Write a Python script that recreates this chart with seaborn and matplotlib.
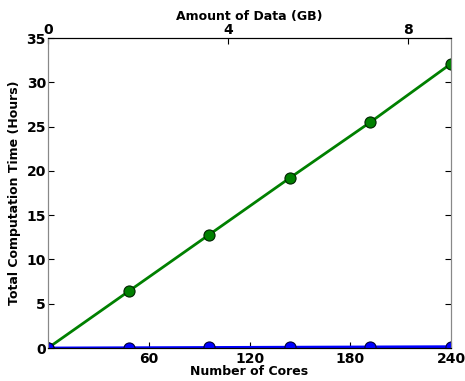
import matplotlib
matplotlib.use("Agg")
import matplotlib.pyplot as plt
import seaborn as sns
import numpy as np

cores = [0, 48, 96, 144, 192, 240]
time_green = [0.0, 6.4, 12.8, 19.2, 25.5, 32.1]
time_blue = [0.0, 0.03, 0.06, 0.09, 0.12, 0.15]
bottom_ticks = [60, 120, 180, 240]
top_ticks = [0, 4, 8]
top_max = 8.96

plt.rcParams['font.family'] = ['DejaVu Sans']
plt.rcParams['font.weight'] = 'bold'
plt.rcParams['axes.labelweight'] = 'bold'

fig = plt.figure(figsize=(4.65, 3.81), dpi=100)
ax = fig.add_axes([48/465, 1-348/381, (451-48)/465, (348-38)/381])

green = (0, 0.5, 0)
blue = (0, 0, 1)
sns.lineplot(x=cores, y=time_green, ax=ax, color=green, linewidth=2)
sns.lineplot(x=cores, y=time_blue, ax=ax, color=blue, linewidth=2)
sns.scatterplot(x=cores, y=time_green, ax=ax, color=green, s=64,
                edgecolor='#002200', linewidth=0.8, zorder=3)
sns.scatterplot(x=cores, y=time_blue, ax=ax, color=blue, s=64,
                edgecolor='#000033', linewidth=0.8, zorder=3)

ax.set_xlim(0, 240)
ax.set_ylim(0, 35)
ax.set_xticks(bottom_ticks)
ax.set_yticks(np.arange(0, 36, 5))
ax.tick_params(direction='in', labelsize=10, length=4, top=False, right=True, pad=3)
ax.tick_params(axis='y', pad=1.5)
for lab in ax.get_xticklabels() + ax.get_yticklabels():
    lab.set_fontweight('bold')
ax.set_xlabel('Number of Cores', fontsize=9, fontweight='bold', labelpad=-1)
ax.set_ylabel('Total Computation Time (Hours)', fontsize=9, fontweight='bold', labelpad=4)
ax.spines['left'].set_color('#888888')
ax.spines['right'].set_color('#888888')

ax2 = ax.twiny()
ax2.set_xlim(0, top_max)
ax2.set_xticks(top_ticks)
ax2.tick_params(direction='in', labelsize=10, length=4, pad=1)
for lab in ax2.get_xticklabels():
    lab.set_fontweight('bold')
ax2.set_xlabel('Amount of Data (GB)', fontsize=9, fontweight='bold', labelpad=2)
ax2.spines['left'].set_color('#888888')
ax2.spines['right'].set_color('#888888')

fig.savefig('out.png', dpi=100)
